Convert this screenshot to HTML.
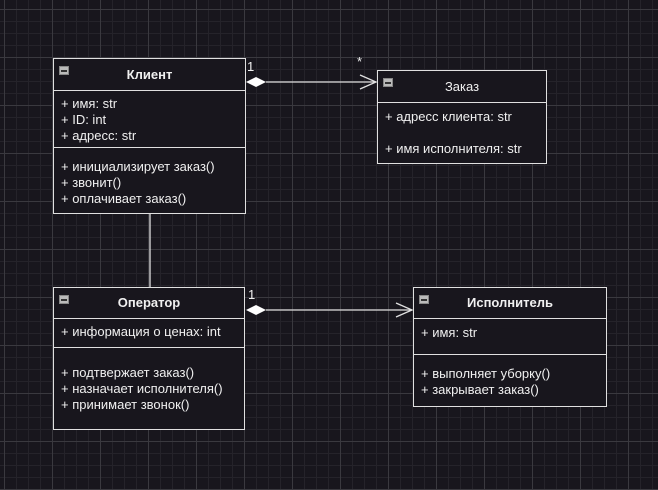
<!DOCTYPE html>
<html><head><meta charset="utf-8"><style>
body{margin:0;width:658px;height:490px;overflow:hidden;background-color:#18161d;
background-image:linear-gradient(#3a393f 1px,transparent 1px),linear-gradient(90deg,#3a393f 1px,transparent 1px),linear-gradient(#25232a 1px,transparent 1px),linear-gradient(90deg,#25232a 1px,transparent 1px);
background-size:48px 48px,48px 48px,12px 12px,12px 12px;background-position:4px 9px,4px 9px,4px 9px,4px 9px;
font-family:"Liberation Sans",sans-serif;font-size:13px;color:#f0f0f0;position:relative}
.b{position:absolute;border:1px solid #e0e0e0;background:#18161d;box-sizing:border-box}
.h{font-weight:bold;text-align:center;border-bottom:1px solid #e0e0e0;position:relative;box-sizing:border-box}
.h i{position:absolute;left:5px;top:7px;width:10px;height:9px;background:#bbb;border:1px solid #888;box-sizing:border-box}
.h i:after{content:"";position:absolute;left:1px;right:1px;top:3px;height:2px;background:#333}
.s{border-bottom:1px solid #e0e0e0;padding-left:7px;box-sizing:border-box;line-height:16px}
.s:last-child{border-bottom:none}
.t{position:absolute;font-size:13px}
</style></head><body>
<svg width="658" height="490" style="position:absolute;left:0;top:0">
<g stroke="#e0e0e0" stroke-width="1.3" fill="none">
<line x1="266" y1="82" x2="376" y2="82"/>
<polyline points="360,75 376,82 360,89"/>
<line x1="266" y1="310" x2="412" y2="310"/>
<polyline points="396,303 412,310 396,317"/>
<line x1="150" y1="213" x2="150" y2="287"/>
</g>
<polygon points="246,82 256,77 266,82 256,87" fill="#fff"/>
<polygon points="246,310 256,305 266,310 256,315" fill="#fff"/>
</svg>
<div class="t" style="left:247px;top:59px">1</div>
<div class="t" style="left:357px;top:54px">*</div>
<div class="t" style="left:248px;top:287px">1</div>

<div class="b" style="left:53px;top:58px;width:193px;height:156px">
<div class="h" style="height:32px;line-height:31px"><i></i>Клиент</div>
<div class="s" style="height:57px;padding-top:5px">+ имя: str<br>+ ID: int<br>+ адресс: str</div>
<div class="s" style="padding-top:11px">+ инициализирует заказ()<br>+ звонит()<br>+ оплачивает заказ()</div>
</div>

<div class="b" style="left:377px;top:70px;width:170px;height:94px">
<div class="h" style="height:32px;line-height:31px;font-weight:normal"><i></i>Заказ</div>
<div class="s" style="padding-top:6px;line-height:16px">+ адресс клиента: str<br><div style="height:16px"></div>+ имя исполнителя: str</div>
</div>

<div class="b" style="left:53px;top:287px;width:192px;height:143px">
<div class="h" style="height:31px;line-height:30px"><i></i>Оператор</div>
<div class="s" style="height:29px;padding-top:5px">+ информация о ценах: int</div>
<div class="s" style="padding-top:17px">+ подтвержает заказ()<br>+ назначает исполнителя()<br>+ принимает звонок()</div>
</div>

<div class="b" style="left:413px;top:287px;width:194px;height:120px">
<div class="h" style="height:31px;line-height:30px"><i></i>Исполнитель</div>
<div class="s" style="height:36px;padding-top:6px">+ имя: str</div>
<div class="s" style="padding-top:11px">+ выполняет уборку()<br>+ закрывает заказ()</div>
</div>
</body></html>
